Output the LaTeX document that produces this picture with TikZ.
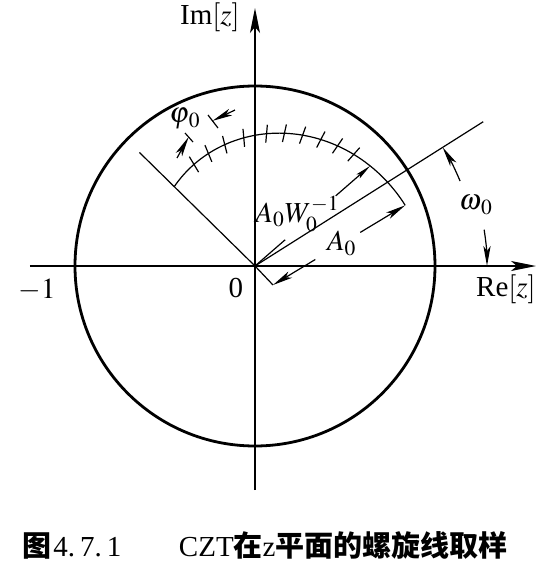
\documentclass[tikz,border=0pt]{standalone}
\usepackage{mathptmx}
\usepackage{fontspec}
\setmainfont{Liberation Serif}
\newfontfamily\cjk{Noto Sans CJK SC}
\usetikzlibrary{arrows.meta,positioning,calc}

\begin{document}
\begin{tikzpicture}[x=0.5pt,y=0.5pt,
    declare function={sr(\t)=162*exp(-0.00316*(\t-22));},
    rim/.style={line width=1.4pt},
    axis/.style={line width=0.65pt,-{Stealth[length=12.5pt,width=5pt,inset=3pt]}},
    guide/.style={line width=0.6pt},
    dim/.style={line width=0.6pt,-{Stealth[length=10pt,width=3.6pt,inset=2.5pt]}},
    lbl/.style={font=\fontsize{14.5}{17}\selectfont,inner sep=0pt}]
\useasboundingbox (-255,-313) rectangle (293,266);

\coordinate (O) at (0,0);
\coordinate (xl) at (-225,0);
\coordinate (xr) at (281,0);
\coordinate (yb) at (0,-224);
\coordinate (yt) at (0,258);

\draw[rim] (O) circle (180);
\draw[axis] (xl) -- (xr);
\draw[axis] (yb) -- (yt);

\node[lbl] (im) at (-45,249) {Im$[z]$};
\node[lbl] (re) at (251,-23) {Re$[z]$};
\node[lbl] (m1) at (-218,-24) {$-1$};
\node[lbl] (o) at (-19,-22) {0};

\draw[guide] (O) -- (135.5:162);
\draw[guide] (O) -- (32.3:270);
\draw[guide] plot[domain=22:135.5,samples=80] (\x:{sr(\x)});
\foreach \a in {48.5,55.5,62.5,70,77.5,85,95,104,112.5,121}
  \draw[guide] (\a:{sr(\a)-9}) -- (\a:{sr(\a)+9});

\node[lbl,anchor=base west] (aw) at (0,44) {$A_0W_0^{-1}$};
\draw[guide] (O) -- (41:40);
\draw[guide,-{Stealth[length=8pt,width=2.6pt,inset=1.5pt]}] (41:107) -- (41:{sr(41)});

\coordinate (d1) at (18,-19);
\coordinate (d2) at (22:{sr(22)});
\draw[guide] (O) -- (d1);
\draw[dim] ($(d1)!0.32!(d2)$) -- (d1);
\draw[dim] ($(d1)!0.66!(d2)$) -- (d2);
\node[lbl] (a0) at ($(d1)!0.52!(d2)$) {$A_0$};

\draw[dim] (22.5:222) arc[start angle=22.5,end angle=32.3,radius=222];
\draw[dim] (9:232) arc[start angle=9,end angle=0,radius=232];
\node[lbl] (w0) at (221,61) {$\omega_{\kern1pt0}$};

\coordinate (pu1) at (-47,151);
\coordinate (pu2) at (-37,138);
\coordinate (pl1) at (-70,133);
\coordinate (pl2) at (-62,124);
\draw[guide] (pu1) -- (pu2);
\draw[guide] (pl1) -- (pl2);
\draw[dim] (-20,156) -- ($(pu1)!0.45!(pu2)$);
\draw[dim] (-78,108) -- ($(pl1)!0.45!(pl2)$);
\node[lbl] (phi) at (-70,147) {$\varphi_{\kern1pt0}$};

\node[anchor=base west,inner sep=0pt,font=\fontsize{14.5}{17}\selectfont] (cap1) at (-233,-290)
  {{\cjk\bfseries 图}\hspace{1pt}4.\hspace{2.5pt}7.\hspace{2.5pt}1};
\node[anchor=base east,inner sep=0pt,font=\fontsize{14.5}{17}\selectfont] (cap2) at (253,-290)
  {CZT{\cjk\bfseries 在}z{\cjk\bfseries 平面的螺旋线取样}};
\end{tikzpicture}
\end{document}
